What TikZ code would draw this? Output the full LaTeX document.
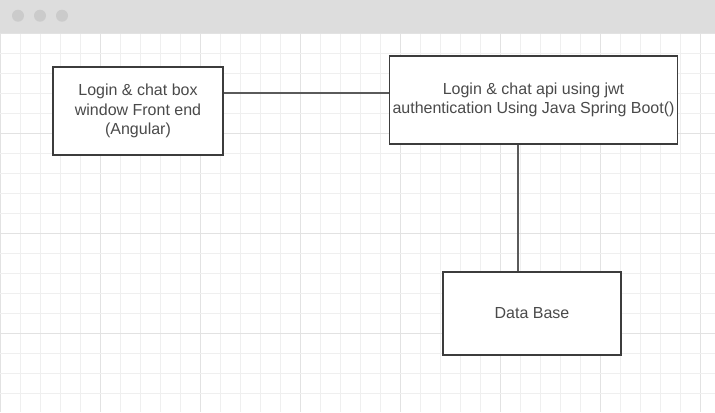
\documentclass[tikz,border=0pt]{standalone}
\usepackage{fontspec}
\setmainfont{Liberation Sans}
\usetikzlibrary{calc}
\definecolor{barGray}{HTML}{DDDDDD}
\definecolor{dotGray}{HTML}{CBCBCB}
\definecolor{gridMinor}{HTML}{EFEFEF}
\definecolor{gridMajor}{HTML}{E2E2E2}
\definecolor{boxLine}{HTML}{3C3C3C}
\definecolor{linkLine}{HTML}{5A5A5A}
\definecolor{labelText}{HTML}{4A4A4A}
\tikzset{
  appbox/.style={draw=boxLine, line width=0.8pt, fill=white, align=center,
    text=labelText, font=\fontsize{12pt}{14.4pt}\selectfont, inner sep=0pt},
  link/.style={draw=linkLine, line width=1.5pt}
}
\begin{document}
\begin{tikzpicture}[x=0.75pt,y=0.75pt,yscale=-1,xscale=1]
    \useasboundingbox (0,0) rectangle (715,412);
    % grid
    \foreach \i in {0,...,35} {
      \pgfmathsetmacro{\gx}{0.7+20*\i}
      \pgfmathparse{mod(\i,5)==0?1:0}
      \ifnum\pgfmathresult=1 \def\gc{gridMajor}\else\def\gc{gridMinor}\fi
      \draw[\gc, line width=0.9pt] (\gx,32) -- (\gx,412);
    }
    \foreach \j in {0,...,19} {
      \pgfmathsetmacro{\gy}{33.3+20*\j}
      \pgfmathparse{mod(\j,5)==0?1:0}
      \ifnum\pgfmathresult=1 \def\gc{gridMajor}\else\def\gc{gridMinor}\fi
      \draw[\gc, line width=0.9pt] (0,\gy) -- (715,\gy);
    }
    % window bar
    \fill[barGray] (0,0) rectangle (715,32.5);
    \foreach \dx in {18,40,62} \fill[dotGray] (\dx,15.7) circle (6);
    % boxes
    \node[appbox, minimum width=127.5pt, minimum height=66pt] (frontend) at (138,111)
      {\raisebox{-1pt}{\parbox{127pt}{\centering Login \& chat box\\window Front end\\(Angular)}}};
    \node[appbox, minimum width=216.5pt, minimum height=66pt] (api) at (533.5,100)
      {\raisebox{-1pt}{\parbox{216pt}{\centering Login \& chat api using jwt\\authentication Using Java Spring Boot()}}};
    \node[appbox, minimum width=133.5pt, minimum height=62.25pt] (database) at (532,313.5)
      {\raisebox{-1pt}{Data Base}};
    % links
    \coordinate (feOut) at ($(frontend.north east)!0.296!(frontend.south east)$);
    \draw[link] (feOut) -- (feOut -| api.west);
    \coordinate (apiOut) at ($(api.south west)!0.448!(api.south east)$);
    \draw[link] (apiOut) -- (apiOut |- database.north);
\end{tikzpicture}
\end{document}
